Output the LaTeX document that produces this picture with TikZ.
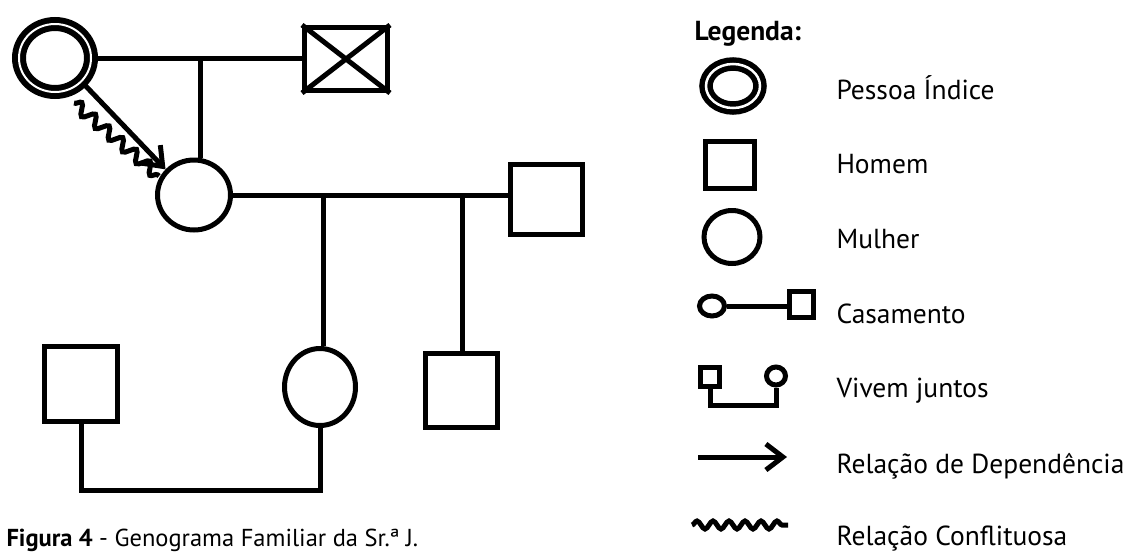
\documentclass[tikz,border=0pt]{standalone}
\usepackage{fontspec}
\setmainfont{PT Sans}
\usetikzlibrary{shapes.geometric,arrows.meta,decorations.pathmorphing}
\begin{document}
\begin{tikzpicture}[x=1pt,y=-1pt,line width=5pt,
	homem/.style={draw,rectangle,inner sep=0pt},
	mulher/.style={draw,ellipse,inner sep=0pt},
	indice/.style={draw,ellipse,inner sep=0pt,double=white,double distance=2pt,line width=6pt},
	dep/.style={-{Straight Barb[length=17pt,width=26pt]}},
	conf/.style={decorate,decoration={snake,segment length=18pt,amplitude=5.5pt}},
	legtxt/.style={anchor=base west,inner sep=0pt,font=\fontsize{27.5}{32}\selectfont}]
	%\draw[help lines] (0,0) grid[step=50pt] (1127,552);
	\useasboundingbox (0,0) rectangle (1127,552);
	% genograma
	\node[indice,minimum width=72pt,minimum height=68pt] (idx) at (55,58) {};
	\node[homem,minimum width=83pt,minimum height=63pt] (ex) at (346,59) {};
	\draw (ex.north west)--(ex.south east) (ex.north east)--(ex.south west);
	\draw (idx.east)--(idx.east -| ex.west);
	\coordinate (c1) at (200,58);
	\node[mulher,minimum width=73pt,minimum height=70pt] (mae) at (194,195) {};
	\draw (c1)--(c1 |- mae.north);
	\draw[dep] (idx.-42)--(mae.138);
	\coordinate (w1) at (74,103);
	\coordinate (w2) at (159,176);
	\draw[conf] (w1)--(w2);
	\node[homem,minimum width=72pt,minimum height=70pt] (pai) at (546,199) {};
	\draw (mae.east)--(mae.east -| pai.west);
	\node[mulher,minimum width=71pt,minimum height=77pt] (filha) at (320,387) {};
	\node[homem,minimum width=72pt,minimum height=74pt] (filho) at (461,390) {};
	\node[homem,minimum width=73pt,minimum height=75pt] (genro) at (81,384) {};
	\coordinate (c2) at (323,195);
	\coordinate (c3) at (462,195);
	\draw (c2)--(c2 |- filha.north);
	\draw (c3)--(c3 |- filho.north);
	\coordinate (vj) at (0,490);
	\draw (genro.south) |- (vj -| filha.south)--(filha.south);
	% legenda
	\node[anchor=base west,inner sep=0pt,font=\bfseries\fontsize{27.5}{32}\selectfont] (leg) at (692,40) {Legenda:};
	\node[indice,line width=5.5pt,double distance=2.5pt,minimum width=54pt,minimum height=44pt] (lidx) at (733,86) {};
	\node[legtxt] (tidx) at (834,99) {Pessoa Índice};
	\node[homem,minimum width=49pt,minimum height=47pt] (lhom) at (730,165) {};
	\node[legtxt] (thom) at (834,173) {Homem};
	\node[mulher,minimum width=56pt,minimum height=53pt] (lmul) at (732,237) {};
	\node[legtxt] (tmul) at (834,248) {Mulher};
	\node[mulher,minimum width=25pt,minimum height=20pt] (lcc) at (712,306) {};
	\node[homem,minimum width=24pt,minimum height=26pt] (lcs) at (801,304) {};
	\draw (lcc.east)--(lcc.east -| lcs.west);
	\node[legtxt] (tcas) at (834,323) {Casamento};
	\node[homem,minimum width=19pt,minimum height=19pt] (lvs) at (710,377) {};
	\node[mulher,minimum width=19pt,minimum height=18pt] (lvc) at (776,376) {};
	\coordinate (lvj) at (0,405);
	\draw (lvs.south) |- (lvj -| lvc.south)--(lvc.south);
	\node[legtxt] (tviv) at (834,397) {Vivem juntos};
	\coordinate (la) at (698,457);
	\coordinate (lb) at (787,457);
	\draw[dep] (la)--(lb);
	\node[legtxt] (tdep) at (834,473) {Relação de Dependência};
	\coordinate (lc) at (692,525);
	\coordinate (ld) at (788,525);
	\draw[conf,decoration={amplitude=4pt,segment length=16pt}] (lc)--(ld);
	\node[legtxt] (tcon) at (834,545) {Relação Conflituosa};
	% legenda da figura
	\node[anchor=base west,inner sep=0pt,font=\fontsize{24.5}{28}\selectfont] (cap) at (4,546) {\textbf{Figura 4} - Genograma Familiar da Sr.ª J.};
\end{tikzpicture}
\end{document}
